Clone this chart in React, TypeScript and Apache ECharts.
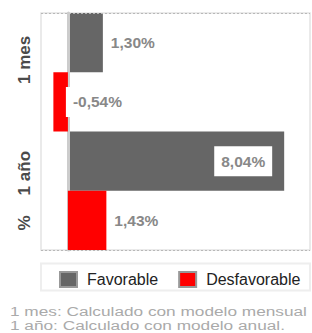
import React, { useEffect, useRef } from "react";
import * as echarts from "echarts";

const categories = ["1 mes", "1 año"];
const unitLabels = ["", "%"];
const seriesNames = ["Favorable", "Desfavorable"];
const favorable = [1.3, 8.04];
const desfavorable = [-0.54, 1.43];
const footnotes = [
  "1 mes: Calculado con modelo mensual",
  "1 año: Calculado con modelo anual.",
];
const axisMin = -1;
const axisMax = 9;

const FONT = "'Liberation Sans', Arial, sans-serif";
const fmt = (v: number) => v.toFixed(2).replace(".", ",") + "%";

const baseLabel = {
  show: true,
  formatter: (p: any) => fmt(p.value),
  color: "#888",
  fontWeight: "bold" as const,
  fontSize: 15.5,
  fontFamily: FONT,
  backgroundColor: "#fff",
  padding: [7, 7, 7, 7],
};

const labelFor = (v: number) => {
  if (v > 4) return { ...baseLabel, position: "insideRight", distance: 12 };
  if (v < 0) return { ...baseLabel, position: "right", distance: -2 };
  return { ...baseLabel, position: "right", distance: 1 };
};

export default function App() {
  const ref = useRef<HTMLDivElement>(null);
  useEffect(() => {
    document.body.style.margin = "0";
    const chart = echarts.init(ref.current!, null, { renderer: "svg" });
    chart.setOption({
      animation: false,
      textStyle: { fontFamily: FONT },
      grid: {
        left: 41,
        right: 2,
        top: 13,
        bottom: 83,
        containLabel: false,
        outerBoundsMode: "none",
        show: true,
        borderColor: "#e4e4e4",
        borderWidth: 1.5,
      },
      xAxis: {
        type: "value",
        min: axisMin,
        max: axisMax,
        axisLine: { show: false },
        axisTick: { show: false },
        axisLabel: { show: false },
        splitLine: { show: false },
      },
      yAxis: {
        type: "category",
        data: categories,
        inverse: true,
        z: 3,
        axisLine: { onZero: true, lineStyle: { color: "#cccccc", width: 3 } },
        axisTick: { show: false },
        axisLabel: {
          interval: 0,
          rotate: 90,
          margin: 8,
          hideOverlap: false,
          formatter: (v: string, i: number) => `{u|${unitLabels[i] || " "}}{g| }{n|${v}}`,
          rich: {
            u: { fontSize: 17, fontWeight: "bold", color: "#4a4a4a", fontFamily: FONT },
            g: { width: 20 },
            n: { fontSize: 17, fontWeight: "bold", color: "#4a4a4a", fontFamily: FONT },
          },
        },
        splitLine: {
          show: true,
          interval: (i: number) => i > 0,
          lineStyle: { type: [2, 2], color: "#b8b8b8", width: 1 },
        },
      },
      legend: {
        data: seriesNames,
        left: 59,
        top: 271,
        padding: 0,
        itemWidth: 17,
        itemHeight: 15,
        itemGap: 20,
        icon: "rect",
        itemStyle: { borderColor: "#999", borderWidth: 2 },
        textStyle: { fontSize: 16, color: "#222", fontFamily: FONT, padding: [0, 0, 0, 5] },
      },
      series: [
        {
          name: seriesNames[0],
          type: "bar",
          z: 2,
          barGap: "0%",
          barCategoryGap: "0%",
          itemStyle: { color: "#666666" },
          data: favorable.map((v) => ({ value: v, label: labelFor(v) })),
        },
        {
          name: seriesNames[1],
          type: "bar",
          z: 4,
          barGap: "0%",
          barCategoryGap: "0%",
          itemStyle: { color: "#ff0000" },
          data: desfavorable.map((v) => ({ value: v, label: labelFor(v) })),
        },
      ],
      graphic: [
        {
          type: "rect",
          shape: { x: 41, y: 263.5, width: 269, height: 27 },
          style: { fill: "none", stroke: "#eeeeee", lineWidth: 2 },
          silent: true,
        },
        ...footnotes.map((t, i) => ({
          type: "text",
          x: 10,
          y: 305 + i * 14,
          scaleX: 1.38,
          silent: true,
          style: {
            text: t,
            fill: "#aaaaaa",
            fontSize: 12.5,
            fontFamily: FONT,
            verticalAlign: "top",
          },
        })),
      ],
    });
    return () => chart.dispose();
  }, []);
  return (
    <div
      ref={ref}
      style={{ position: "absolute", left: 0, top: 0, width: 312, height: 333 }}
    />
  );
}
